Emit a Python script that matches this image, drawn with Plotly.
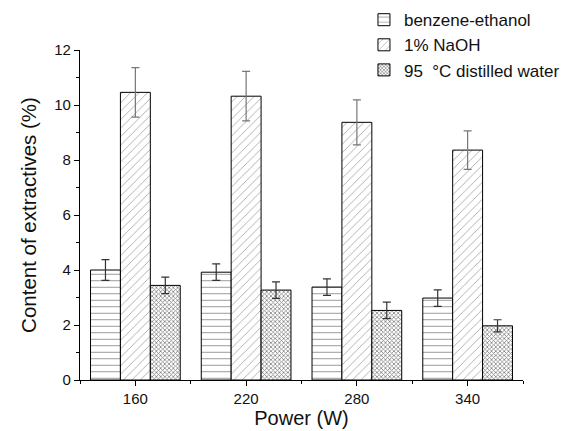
import plotly.graph_objects as go

powers = ["160", "220", "280", "340"]
xpos = [0, 1, 2, 3]
benzene = [4.0, 3.92, 3.38, 2.98]
benzene_err = [0.38, 0.3, 0.3, 0.3]
naoh = [10.46, 10.32, 9.37, 8.36]
naoh_err = [0.9, 0.9, 0.82, 0.7]
water = [3.44, 3.27, 2.53, 1.97]
water_err = [0.3, 0.3, 0.3, 0.22]
names = ["benzene-ethanol", "1% NaOH", "95  \u00b0C distilled water"]

FONT = "Arial, Liberation Sans, sans-serif"

fig = go.Figure()
specs = [
    (benzene, benzene_err, "-", 6.5, 0.12, "#333333"),
    (naoh, naoh_err, "/", 6, 0.1, "#777777"),
    (water, water_err, "x", 3, 0.45, "#333333"),
]
for (vals, errs, shape, size, sol, ecol), nm in zip(specs, names):
    fig.add_trace(go.Bar(
        x=xpos, y=vals, name=nm,
        marker=dict(color="white", line=dict(color="black", width=1),
                    pattern=dict(shape=shape, size=size, solidity=sol,
                                 fgcolor="black", bgcolor="white", fillmode="overlay")),
        error_y=dict(type="data", array=errs, visible=True, color=ecol,
                     thickness=1.2, width=4),
    ))

fig.update_layout(
    width=565, height=431,
    margin=dict(l=80, r=42, t=50, b=51, autoexpand=False),
    paper_bgcolor="white", plot_bgcolor="white",
    barmode="group", bargap=0.19, bargroupgap=0,
    font=dict(family=FONT, size=15, color="#111111"),
    legend=dict(x=0.641, y=1.145, xanchor="left", yanchor="top",
                font=dict(size=17, color="#111111"), bgcolor="rgba(0,0,0,0)",
                tracegroupgap=0, itemwidth=30),
    xaxis=dict(range=[-0.5, 3.5], tickvals=xpos, ticktext=powers,
               showgrid=False, zeroline=False, showline=True, linecolor="black",
               linewidth=1.2, ticks="outside", ticklen=5, tickcolor="black",
               tickfont=dict(size=15),
               minor=dict(dtick=0.5, tick0=-0.5, ticks="outside", ticklen=3,
                          tickcolor="black", showgrid=False),
               title=dict(text="Power (W)", font=dict(size=20, color="#111111"), standoff=3)),
    yaxis=dict(range=[0, 12], dtick=2, showgrid=False, zeroline=False,
               showline=True, linecolor="black", linewidth=1.2,
               ticks="outside", ticklen=5, tickcolor="black",
               tickfont=dict(size=15),
               minor=dict(dtick=1, ticks="outside", ticklen=3, tickcolor="black",
                          showgrid=False),
               title=dict(text="Content of extractives (%)",
                          font=dict(size=20.5, color="#111111"), standoff=12)),
)

fig.write_html("out.html")
